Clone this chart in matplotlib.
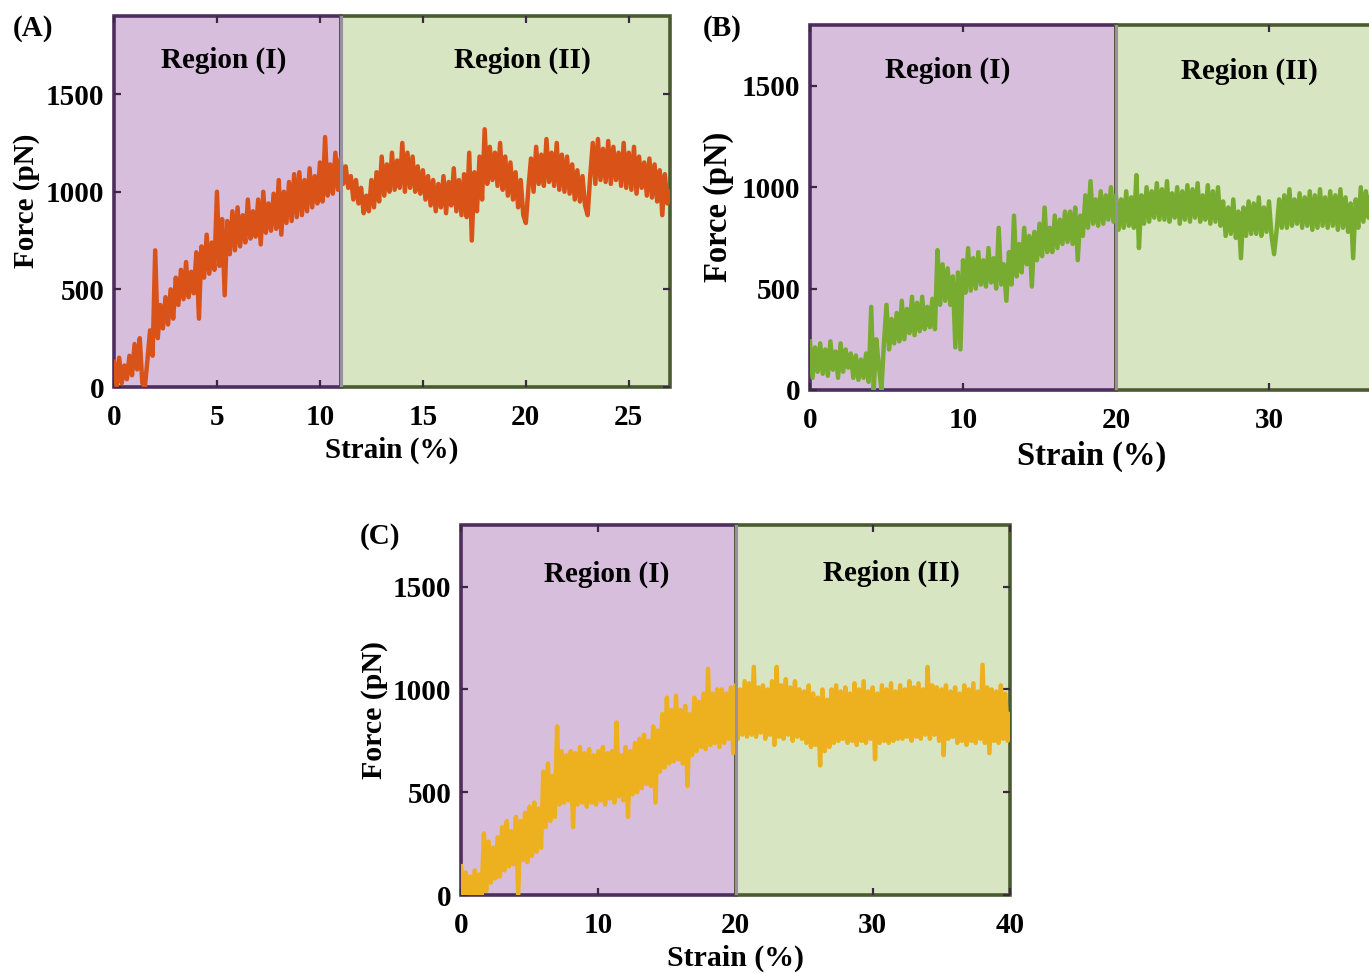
import numpy as np
import matplotlib
matplotlib.use("Agg")
import matplotlib.pyplot as plt

# force traces (pN), sampled evenly in strain
force_a = [130, 0, 150, 20, 110, 40, 160, 60,
           220, 90, 250, 20, 0, 140, 290, 160,
           700, 250, 420, 300, 460, 320, 500, 350,
           560, 420, 600, 450, 640, 460, 590, 480,
           690, 350, 720, 560, 780, 580, 740, 600,
           1000, 620, 860, 470, 850, 680, 900, 700,
           920, 720, 880, 740, 960, 760, 900, 770,
           960, 730, 1000, 790, 940, 800, 990, 810,
           1060, 780, 1000, 840, 1050, 850, 1090, 870,
           1100, 880, 1060, 900, 1120, 920, 1080, 940,
           1150, 950, 1280, 980, 1140, 990, 1200, 1010,
           1170, 1040, 1130, 1020, 1080, 960, 1060, 940,
           1020, 890, 980, 900, 1060, 920, 1100, 950,
           1180, 980, 1140, 1000, 1200, 1010, 1160, 1020,
           1250, 1000, 1200, 1020, 1180, 1000, 1130, 990,
           1110, 960, 1080, 930, 1060, 900, 1040, 920,
           1080, 890, 1050, 930, 1120, 900, 1060, 880,
           1090, 870, 1200, 750, 1100, 900, 1180, 960,
           1320, 1040, 1230, 1060, 1200, 1030, 1250, 1010,
           1180, 980, 1150, 960, 1100, 920, 1060, 880,
           840, 1020, 1170, 1000, 1230, 1040, 1190, 1030,
           1270, 1050, 1200, 1030, 1250, 1010, 1190, 1000,
           1180, 990, 1140, 960, 1110, 950, 1080, 930,
           880, 1080, 1250, 1040, 1270, 1060, 1220, 1050,
           1260, 1040, 1230, 1060, 1200, 1030, 1250, 1020,
           1200, 1010, 1230, 990, 1180, 1020, 1150, 980,
           1170, 970, 1140, 950, 1110, 880, 1090, 940,
           1000]

force_b = [240, 60, 210, 90, 230, 80,
           200, 70, 240, 100, 190, 60,
           230, 90, 200, 110, 180, 60,
           170, 50, 150, 60, 180, 40,
           410, 0, 250, 120, 0, 230,
           420, 200, 350, 230, 380, 240,
           440, 250, 400, 280, 460, 270,
           430, 290, 460, 300, 410, 310,
           450, 300, 690, 420, 620, 440,
           600, 420, 560, 210, 580, 200,
           640, 480, 700, 490, 650, 500,
           680, 520, 640, 510, 700, 530,
           650, 500, 800, 520, 620, 440,
           680, 520, 860, 560, 720, 580,
           800, 620, 760, 510, 780, 640,
           820, 660, 900, 680, 800, 680,
           860, 700, 840, 720, 880, 730,
           880, 720, 900, 640, 860, 760,
           960, 800, 1030, 820, 940, 810,
           980, 820, 960, 840, 1000, 830,
           960, 790, 940, 800, 980, 810,
           950, 800, 1060, 700, 960, 820,
           1000, 830, 980, 850, 1020, 840,
           990, 840, 1030, 830, 970, 850,
           1000, 820, 980, 840, 1010, 830,
           990, 850, 1020, 830, 960, 840,
           1010, 820, 980, 830, 1000, 810,
           930, 760, 900, 770, 940, 750,
           880, 650, 900, 760, 930, 770,
           920, 770, 950, 760, 900, 780,
           930, 760, 670, 790, 940, 800,
           960, 800, 990, 810, 940, 820,
           970, 800, 950, 810, 980, 790,
           960, 800, 990, 810, 950, 800,
           980, 810, 960, 790, 990, 800,
           950, 780, 920, 650, 940, 800,
           1000, 830, 980, 850, 1010, 840,
           990, 820, 970, 830, 1000, 810,
           980, 820, 1000, 830, 960, 810,
           990, 800, 970, 820, 980, 830,
           900]

force_c = [140, 0, 110, 0, 90, 0,
           120, 0, 100, 0, 300, 20,
           260, 60, 230, 80, 280, 90,
           330, 120, 360, 140, 310, 150,
           380, 0, 360, 170, 400, 160,
           430, 190, 450, 210, 420, 230,
           600, 330, 640, 360, 580, 380,
           820, 440, 700, 450, 680, 460,
           700, 330, 690, 440, 720, 450,
           690, 430, 710, 450, 680, 440,
           700, 460, 720, 440, 690, 470,
           700, 450, 840, 480, 680, 460,
           720, 380, 700, 490, 740, 500,
           760, 520, 780, 540, 750, 530,
           820, 450, 800, 600, 880, 620,
           960, 640, 900, 650, 970, 660,
           900, 640, 920, 530, 880, 680,
           960, 700, 940, 720, 980, 710,
           1100, 730, 980, 740, 1000, 720,
           1000, 740, 980, 760, 1010, 690,
           1020, 760, 1000, 780, 1040, 770,
           1030, 780, 1110, 770, 1010, 790,
           1020, 760, 1000, 780, 1040, 730,
           1110, 770, 1020, 760, 1050, 780,
           1010, 750, 1040, 770, 1000, 760,
           990, 740, 1020, 720, 980, 730,
           960, 630, 1000, 700, 950, 720,
           1000, 740, 1020, 750, 990, 760,
           1010, 740, 980, 750, 1030, 730,
           1000, 750, 1040, 740, 990, 760,
           1010, 660, 980, 740, 1020, 750,
           1000, 740, 1030, 750, 990, 760,
           1020, 760, 1000, 770, 1040, 750,
           1010, 770, 1030, 760, 1000, 780,
           1110, 760, 1020, 780, 1010, 750,
           1000, 680, 1020, 760, 990, 770,
           1010, 740, 980, 750, 1020, 730,
           1000, 750, 1030, 740, 990, 760,
           1120, 740, 1010, 690, 1000, 750,
           990, 740, 1020, 760, 980, 750,
           880]

strain_max = [27, 40, 40]
region_split = [11, 20, 20]
force_max = [1900, 1800, 1800]
# panel B runs past the right edge, so its 40 label is not shown
xticks = [[0, 5, 10, 15, 20, 25], [0, 10, 20, 30], [0, 10, 20, 30, 40]]
yticks = [0, 500, 1000, 1500]
panel_names = ["(A)", "(B)", "(C)"]
line_colors = ["#D95319", "#77AC30", "#EDB120"]

W, H = 1369, 973
plt.rcParams['font.family'] = ['Liberation Serif', 'DejaVu Serif']
plt.rcParams['font.weight'] = 'bold'

fig = plt.figure(figsize=(W / 100, H / 100), dpi=100)


def fx(x):
    return x / W


def fy(y):
    return 1 - y / H


# axes boxes in pixels: left, right, top, bottom (B runs off the right edge)
boxes = [(114, 670, 16, 387), (810, 1422, 25, 390), (461, 1010, 525, 895)]
panel_pos = [(33, 28), (722, 28), (380, 537)]
region_pos = [[(224, 60), (522, 60)], [(948, 70), (1249, 71)], [(607, 574), (891, 573)]]
ylabel_pos = [(27, 201), (719, 207), (375, 710)]
xlabel_pos = [(392, 450), (1092, 456), (735, 958)]
label_size = [21, 23.5, 21.5]

purple, purple_edge = "#D8BEDD", "#4E2E5E"
green, green_edge = "#D7E5C3", "#4A5B30"

for i, force in enumerate([force_a, force_b, force_c]):
    l, r, t, b = boxes[i]
    ax = fig.add_axes([fx(l), fy(b), fx(r - l), (b - t) / H])
    strain = np.linspace(0, strain_max[i], len(force))
    xs = region_split[i]

    p1 = ax.axvspan(0, xs, facecolor=purple, edgecolor=purple_edge, lw=2.6, zorder=0)
    p2 = ax.axvspan(xs, strain_max[i], facecolor=green, edgecolor=green_edge, lw=2.6, zorder=0)
    p1.set_clip_on(False)
    p2.set_clip_on(False)
    ax.plot(strain, force, color=line_colors[i], lw=3.2, zorder=2)
    ax.axvline(xs, color="#9A8F9C", lw=2.2, zorder=3)

    ax.set_xlim(0, strain_max[i])
    ax.set_ylim(0, force_max[i])
    ax.set_xticks(xticks[i])
    ax.set_yticks(yticks)
    for s in ax.spines.values():
        s.set_visible(False)
    ax.tick_params(direction='in', top=True, right=True, length=5, width=1.6,
                   color="#3a2a40", labelsize=21, pad=7)
    ax.tick_params(axis='x', pad=12)
    for lab in ax.get_xticklabels() + ax.get_yticklabels():
        lab.set_fontweight('bold')

    for (px, py), name in zip(region_pos[i], ["Region (I)", "Region (II)"]):
        fig.text(fx(px), fy(py), name, ha='center', va='center', fontsize=21, fontweight='bold')

    fig.text(fx(panel_pos[i][0]), fy(panel_pos[i][1]), panel_names[i], ha='center', va='center',
             fontsize=21, fontweight='bold')
    fig.text(fx(ylabel_pos[i][0]), fy(ylabel_pos[i][1]), "Force (pN)", rotation=90, ha='center',
             va='center', fontsize=label_size[i], fontweight='bold')
    fig.text(fx(xlabel_pos[i][0]), fy(xlabel_pos[i][1]), "Strain (%)", ha='center', va='center',
             fontsize=label_size[i], fontweight='bold')

fig.savefig("out.png", dpi=100, facecolor="white")
